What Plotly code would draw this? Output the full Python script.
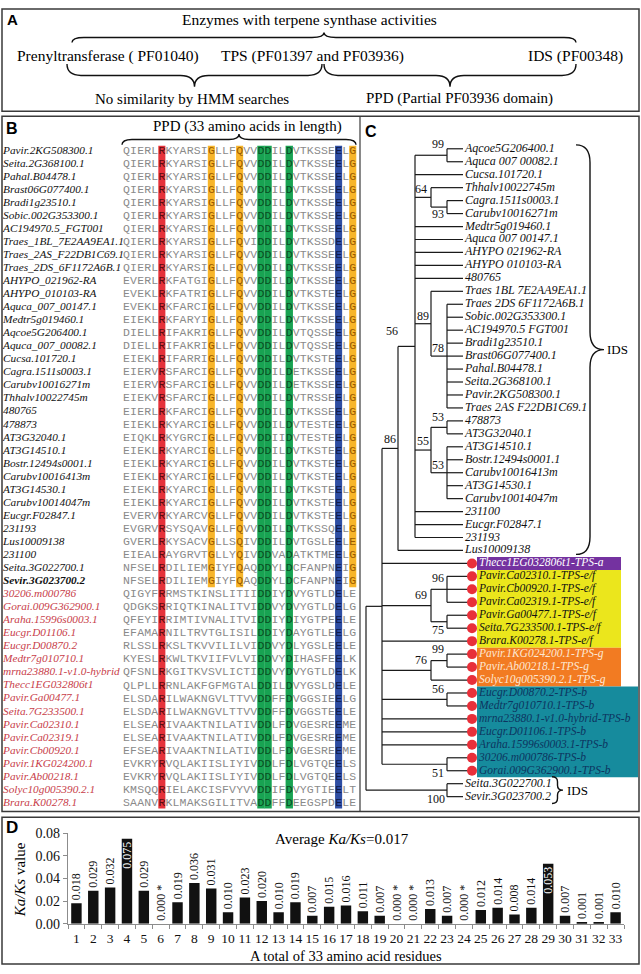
import plotly.graph_objects as go

W, H = 641, 974
SERIF = "Liberation Serif"
MONO = "Liberation Mono"
SANS = "Liberation Sans"

# ------------------------------------------------------------------ data
# Panel D : Ka/Ks per residue of the 33-aa PPD
residues = [str(i) for i in range(1, 34)]
kaks_values = [0.018, 0.029, 0.032, 0.075, 0.029, 0.000, 0.019, 0.036, 0.031, 0.010,
               0.023, 0.020, 0.010, 0.019, 0.007, 0.015, 0.016, 0.011, 0.007, 0.000,
               0.000, 0.013, 0.007, 0.000, 0.012, 0.014, 0.008, 0.014, 0.053, 0.007,
               0.001, 0.001, 0.010]
kaks_labels = ["0.018", "0.029", "0.032", "0.075", "0.029", "0.000 *", "0.019", "0.036",
               "0.031", "0.010", "0.023", "0.020", "0.010", "0.019", "0.007", "0.015",
               "0.016", "0.011", "0.007", "0.000 *", "0.000 *", "0.013", "0.007", "0.000 *",
               "0.012", "0.014", "0.008", "0.014", "0.053", "0.007", "0.001", "0.001", "0.010"]
y_ticks = [0.00, 0.02, 0.04, 0.06, 0.08]
average_text = "Average <i>Ka/Ks</i>=0.017"

# Panel B : alignment
aln_names = [
    "Pavir.2KG508300.1", "Seita.2G368100.1", "Pahal.B04478.1", "Brast06G077400.1",
    "Bradi1g23510.1", "Sobic.002G353300.1", "AC194970.5_FGT001", "Traes_1BL_7E2AA9EA1.1",
    "Traes_2AS_F22DB1C69.1", "Traes_2DS_6F1172A6B.1", "AHYPO_021962-RA", "AHYPO_010103-RA",
    "Aquca_007_00147.1", "Medtr5g019460.1", "Aqcoe5G206400.1", "Aquca_007_00082.1",
    "Cucsa.101720.1", "Cagra.1511s0003.1", "Carubv10016271m", "Thhalv10022745m",
    "480765", "478873", "AT3G32040.1", "AT3G14510.1", "Bostr.12494s0001.1",
    "Carubv10016413m", "AT3G14530.1", "Carubv10014047m", "Eucgr.F02847.1", "231193",
    "Lus10009138", "231100", "Seita.3G022700.1", "Sevir.3G023700.2",
    "30206.m000786", "Gorai.009G362900.1", "Araha.15996s0003.1", "Eucgr.D01106.1",
    "Eucgr.D00870.2", "Medtr7g010710.1", "mrna23880.1-v1.0-hybrid", "Thecc1EG032806t1",
    "Pavir.Ga00477.1", "Seita.7G233500.1", "Pavir.Ca02310.1", "Pavir.Ca02319.1",
    "Pavir.Cb00920.1", "Pavir.1KG024200.1", "Pavir.Ab00218.1", "Solyc10g005390.2.1",
    "Brara.K00278.1"]
aln_group = ["IDS"] * 33 + ["IDS_key"] + ["TPS"] * 17
aln_seqs = [
    "QIERLRKYARSIGLLFQVVDDILDVTKSSEELG", "QIERLRKYARSIGLLFQVVDDILDVTKSSEELG",
    "QIERLRKYARSIGLLFQVVDDILDVTKSSEELG", "QIERLRKYARSIGLLFQVVDDILDVTKSSEELG",
    "QIERLRKYARSIGLLFQVVDDILDVTKSSEELG", "QIERLRKYARSIGLLFQVVDDILDVTKSSEELG",
    "QIERLRKYARSIGLLFQVVDDILDVTKSSEELG", "QIERLRKYARSIGLLFQVIDDILDVTKSSDELG",
    "QIERLRKYARSIGLLFQVVDDILDVTKSSEELG", "QIERLRKYARSIGLLFQVVDDILDVTKSSEELG",
    "EVERLRKFATGIGLLFQVVDDILDVTKSSEELG", "EVEKLRKFATRIGLLFQVVDDILDVTKSTEELG",
    "EVEKLRKFARCIGLLFQVVDDILDVTKSSEELG", "EIEKLRKFARYIGLLFQVVDDILDVTKSSEELG",
    "DIELLRIFAKRIGLLFQVVDDILDVTQSSEELG", "DIELLRIFAKRIGLLFQVVDDILDVTQSSEELG",
    "EIEKLRIFARRIGLLFQVVDDILDVTKSTEELG", "EIERVRSFARCIGLLFQVVDDILDETKSSEELG",
    "EIERVRSFARCIGLLFQVVDDILDETKSSEELG", "EIEKVRSFARCIGLLFQVVDDILDVTRSSEELG",
    "EIERLRKFARCIGLLFQVVDDILDVTKSSEELG", "EIEKLRKYARCIGLLFQVVDDILDVTESTEELG",
    "EIQKLRKYGRCIGLLFQVVDDIIDVTESTEELG", "EIEKLRKYARCIGLLFQVVDDILDVTKSTEELG",
    "EIEKLRKYARCIGLLFQVVDDILDVTKSTEELG", "EIEKLRKYARCIGLLFQVVDDILDVTKSTEELG",
    "EIEKLRKYARCIGLLFQVVDDILDVTKSTEELG", "EIEKLRKYARCIGLLFQVVDDILDVTKSTEELG",
    "EVERVRKYARCVGLLFQVVDDILDVTKSTEELG", "EVGRVRSYSQAVGLLFQVVDDILDVTKSSQELG",
    "GVERLRKYSACVGLLSQIVDDILDVTGSLEELE", "EIEALRAYGRVTGLLYQIVDDVADATKTMEELG",
    "NFSELRDILIEMGIYFQAQDDYLDCFANPNEIG", "NFSELRDILIEMGIYFQAQDDYLDCFANPNEIG",
    "QIGYFRRMSTKINSLITIIDDIYDVYGTLDELE", "QDGKSRRIQTKINALITVIDDVYDVYGTLDELG",
    "QFEYIRRIMTIVNALITVIDDIYDIYGTPEELE", "EFAMARNILTRVTGLISILDDIYDAYGTLEELG",
    "RLSSLRKSLTKVVILILVIDDVYDLYGSLEELE", "KYESLRKWLTKVIIFVLVIDDVYDIHASFEELK",
    "QFSNLRKGITKVSVLICTIDDVYDVYGTLDELK", "QLPLLRRNLAKFGFMGTALDDILDVYGSLDELE",
    "ELSDARILWAKNGVLTTVVDDFFDVGGSIEELG", "ELSDARILWAKNGVLTTVVDDFFDVGGSTEELE",
    "ELSEARIVAAKTNILATIVDDLFDVGESREEME", "ELSEARIVAAKTNILATIVDDLFDVGESREEME",
    "EFSEARIVAAKTNILATIVDDLFDVGESREEME", "EVKRYRVQLAKIISLIYIVDDLFDLVGTQEELS",
    "EVKRYRVQLAKIISLIYIVDDLFDLVGTQEELS", "KMSQQRIELAKCISFVYVVDDIFDVYGTIEELT",
    "SAANVRKLMAKSGILITVADDFFDEEGSPDELE"]
red_cols = [6]
orange_cols = [13, 17, 33]       # conserved only in the IDS rows
green_cols = [20, 21, 24]
blue_cols = [31]
ids_row_count = 34

# Panel C : tree topology (node id, bootstrap, children)
TREE = ("root", "", [
    ("n86", "86", [
        ("n56", "56", [
            ("nA", "", [
                ("n99a", "99", ["Aqcoe5G206400.1", "Aquca 007 00082.1"]),
                "Cucsa.101720.1",
                ("n64", "64", ["Thhalv10022745m",
                               ("n93", "93", ["Cagra.1511s0003.1", "Carubv10016271m"])]),
                "Medtr5g019460.1", "Aquca 007 00147.1", "AHYPO 021962-RA",
                "AHYPO 010103-RA", "480765",
                ("n89", "89", ["Traes 1BL 7E2AA9EA1.1",
                               ("n78", "78", ["Traes 2DS 6F1172A6B.1", "Sobic.002G353300.1",
                                              "AC194970.5 FGT001", "Bradi1g23510.1",
                                              "Brast06G077400.1", "Pahal.B04478.1",
                                              "Seita.2G368100.1", "Pavir.2KG508300.1",
                                              "Traes 2AS F22DB1C69.1"])]),
                ("n55", "55", [("n53a", "53", ["478873", "AT3G32040.1"]),
                               ("n53b", "53", ["AT3G14510.1", "Bostr.12494s0001.1",
                                               "Carubv10016413m", "AT3G14530.1",
                                               "Carubv10014047m"])]),
                "231100", "Eucgr.F02847.1", "231193"]),
            "Lus10009138"]),
        "Thecc1EG032806t1-TPS-a",
        ("n69", "69", [("n96", "96", ["Pavir.Ca02310.1-TPS-e/f", "Pavir.Cb00920.1-TPS-e/f",
                                      "Pavir.Ca02319.1-TPS-e/f"]),
                       ("n75", "75", ["Pavir.Ga00477.1-TPS-e/f", "Seita.7G233500.1-TPS-e/f"])]),
        "Brara.K00278.1-TPS-e/f",
        ("n76", "76", [("n99b", "99", ["Pavir.1KG024200.1-TPS-g", "Pavir.Ab00218.1-TPS-g"]),
                       "Solyc10g005390.2.1-TPS-g"]),
        ("nb56", "56", ["Eucgr.D00870.2-TPS-b", "Medtr7g010710.1-TPS-b"]),
        "mrna23880.1-v1.0-hybrid-TPS-b", "Eucgr.D01106.1-TPS-b", "Araha.15996s0003.1-TPS-b",
        ("n51", "51", ["30206.m000786-TPS-b", "Gorai.009G362900.1-TPS-b"])]),
    ("nSS", "100", ["Seita.3G022700.1", "Sevir.3G023700.2"])])
tps_classes = ["TPS-a", "TPS-e/f", "TPS-g", "TPS-b"]

# ------------------------------------------------------------------ layout constants
ROW0_B, DY_B = 146.0, 13.25
COL0, DX = 126.5, 7.07
ROW0_C, DY_C = 144.0, 13.16
NODE_X = {"root": 366, "n86": 382, "n56": 398, "nA": 415,
          "n64": 431, "n89": 431, "n55": 431, "n69": 431, "n76": 431}
INNER_X = 447
LEAF_END_IDS, LEAF_END_TPS = 463, 472
LEAF_TXT_IDS, LEAF_TXT_TPS = 465, 479

GRAY = "#8a8a8a"
RED, ORANGE, GREEN, BLUE = "#e5323b", "#f7b52a", "#18a352", "#2e4ea3"
RED_T, ORANGE_T, GREEN_T, BLUE_T = "#5c0c10", "#9a5a00", "#0a4d22", "#0e1a4a"
TPS_NAME_RED = "#c8404a"
BOX_COL = {"TPS-a": "#7432a0", "TPS-e/f": "#ebe61c", "TPS-g": "#f27b22", "TPS-b": "#168b9d"}
BOX_TXT = {"TPS-a": "#ffffff", "TPS-e/f": "#111111", "TPS-g": "#fde7d2", "TPS-b": "#0d3560"}
BOX_RIGHT = {"TPS-a": 621, "TPS-e/f": 621, "TPS-g": 621, "TPS-b": 638}

fig = go.Figure()
shapes, anns = [], []


def ann(x, y, text, size, anchor="center", family=SERIF, color="black", angle=0):
    anns.append(dict(x=x, y=y, xref="x", yref="y", text=text, showarrow=False,
                     xanchor=anchor, yanchor="middle", textangle=angle,
                     font=dict(family=family, size=size, color=color)))


def rect(x0, y0, x1, y1, fill=None, line=None, lw=0, layer="below"):
    shapes.append(dict(type="rect", xref="x", yref="y", x0=x0, y0=y0, x1=x1, y1=y1,
                       fillcolor=fill or "rgba(0,0,0,0)",
                       line=dict(color=line or "rgba(0,0,0,0)", width=lw), layer=layer))


def hbrace(x1, x2, y_end, y_tip, r=10):
    ym = (y_end + y_tip) / 2
    xm = (x1 + x2) / 2
    return (f"M{x1},{y_end} Q{x1},{ym} {x1 + r},{ym} L{xm - r},{ym} Q{xm},{ym} {xm},{y_tip} "
            f"Q{xm},{ym} {xm + r},{ym} L{x2 - r},{ym} Q{x2},{ym} {x2},{y_end}")


def vbrace(y1, y2, x_end, x_tip, r=12):
    xm = (x_end + x_tip) / 2
    ymid = (y1 + y2) / 2
    return (f"M{x_end},{y1} Q{xm},{y1} {xm},{y1 + r} L{xm},{ymid - r} Q{xm},{ymid} {x_tip},{ymid} "
            f"Q{xm},{ymid} {xm},{ymid + r} L{xm},{y2 - r} Q{xm},{y2} {x_end},{y2}")


def brace_shape(path, lw=1.4):
    shapes.append(dict(type="path", xref="x", yref="y", path=path,
                       line=dict(color="#111", width=lw), layer="above"))


# ------------------------------------------------------------------ panel frames
BOX = "#3a3a3a"
rect(2, 2, 639, 106, line=BOX, lw=1.5, layer="above")
rect(2, 111, 639, 817, line=BOX, lw=1.5, layer="above")
shapes.append(dict(type="line", xref="x", yref="y", x0=360, x1=360, y0=111, y1=817,
                   line=dict(color=BOX, width=1.2)))
rect(2, 823, 639, 972, line=BOX, lw=1.5, layer="above")

# ------------------------------------------------------------------ panel A
ann(12, 13, "<b>A</b>", 15, family=SANS)
ann(309, 13, "Enzymes with terpene synthase activities", 15.5)
brace_shape(hbrace(72, 576, 36, 26, r=12))
ann(15, 50, "Prenyltransferase ( PF01040)", 15.5, anchor="left")
ann(312, 50, "TPS (PF01397 and PF03936)", 15.5)
ann(575, 50, "IDS (PF00348)", 15.5)
brace_shape(hbrace(67, 322, 58, 81, r=14))
brace_shape(hbrace(324, 576, 58, 81, r=14))
ann(192, 93, "No similarity by HMM searches", 15)
ann(459, 93, "PPD (Partial PF03936 domain)", 15)

# ------------------------------------------------------------------ panel B
ann(12, 123, "<b>B</b>", 16, family=SANS)
ann(247, 121, "PPD (33 amino acids in length)", 15)
brace_shape(hbrace(122, 356, 140, 129, r=10))

n_rows = len(aln_seqs)
row_y = [ROW0_B + i * DY_B for i in range(n_rows)]
col_x = [COL0 + c * DX for c in range(33)]
top_y = row_y[0] - 5
bot_y = row_y[-1] + 5.5
ids_bot = row_y[ids_row_count - 1] + 6
for c in red_cols:
    rect(col_x[c - 1] - DX / 2, top_y, col_x[c - 1] + DX / 2, bot_y, fill=RED)
for c in green_cols:
    rect(col_x[c - 1] - DX / 2, top_y, col_x[c - 1] + DX / 2 + 0.3, bot_y, fill=GREEN)
for c in blue_cols:
    rect(col_x[c - 1] - DX / 2, top_y, col_x[c - 1] + DX / 2, bot_y, fill=BLUE)
for c in orange_cols:
    rect(col_x[c - 1] - DX / 2, top_y, col_x[c - 1] + DX / 2, ids_bot, fill=ORANGE)

lx, ly, lt, lc = [], [], [], []
for r, seq in enumerate(aln_seqs):
    for c, ch in enumerate(seq):
        col = c + 1
        color = GRAY
        if col in red_cols:
            color = RED_T
        elif col in green_cols:
            color = GREEN_T
        elif col in blue_cols:
            color = BLUE_T
        elif col in orange_cols and r < ids_row_count:
            color = ORANGE_T
        lx.append(col_x[c]); ly.append(row_y[r]); lt.append(ch); lc.append(color)
fig.add_trace(go.Scatter(x=lx, y=ly, text=lt, mode="text", textposition="middle center",
                         textfont=dict(family=MONO, size=11.5, color=lc), hoverinfo="skip"))

for grp, color, weight in [("IDS", "#111111", "normal"), ("IDS_key", "#111111", "bold"),
                           ("TPS", TPS_NAME_RED, "normal")]:
    idx = [i for i, g in enumerate(aln_group) if g == grp]
    fig.add_trace(go.Scatter(
        x=[3] * len(idx), y=[row_y[i] for i in idx], text=[aln_names[i] for i in idx],
        mode="text", textposition="middle right", hoverinfo="skip",
        textfont=dict(family=SERIF, size=11.3, color=color, style="italic", weight=weight)))

# ------------------------------------------------------------------ panel C
ann(371, 126, "<b>C</b>", 16, family=SANS)

seg_x, seg_y = [], []
leaf_y = {}
boot = []
counter = [0]


def is_tps(name):
    return "-TPS-" in name


def place(node):
    if isinstance(node, str):
        y = ROW0_C + counter[0] * DY_C
        counter[0] += 1
        leaf_y[node] = y
        return y, (LEAF_END_TPS if is_tps(node) else LEAF_END_IDS)
    nid, lab, children = node
    x = NODE_X.get(nid, INNER_X)
    res = [place(ch) for ch in children]
    ys = [r[0] for r in res]
    for cy, cx in res:
        seg_x.extend([x, cx, None]); seg_y.extend([cy, cy, None])
    seg_x.extend([x, x, None]); seg_y.extend([ys[0], ys[-1], None])
    yj = (ys[0] + ys[-1]) / 2
    if lab:
        boot.append((nid, lab, x, yj, ys[0]))
    return yj, x


place(TREE)

# group boxes behind TPS leaves
for cls in tps_classes:
    ys = [y for n, y in leaf_y.items() if n.endswith(cls)]
    rect(477, min(ys) - DY_C / 2, BOX_RIGHT[cls], max(ys) + DY_C / 2, fill=BOX_COL[cls])

fig.add_trace(go.Scatter(x=seg_x, y=seg_y, mode="lines", hoverinfo="skip",
                         line=dict(color="#1a1a1a", width=1.2)))

tps_leaves = [n for n in leaf_y if is_tps(n)]
ids_leaves = [n for n in leaf_y if not is_tps(n)]
fig.add_trace(go.Scatter(x=[LEAF_END_TPS] * len(tps_leaves), y=[leaf_y[n] for n in tps_leaves],
                         mode="markers", hoverinfo="skip",
                         marker=dict(size=10, color="#e8303a", line=dict(width=0))))
fig.add_trace(go.Scatter(x=[LEAF_TXT_IDS] * len(ids_leaves), y=[leaf_y[n] for n in ids_leaves],
                         text=ids_leaves, mode="text", textposition="middle right",
                         hoverinfo="skip",
                         textfont=dict(family=SERIF, size=12, color="#111", style="italic")))
tps_cols = [BOX_TXT[next(c for c in tps_classes if n.endswith(c))] for n in tps_leaves]
fig.add_trace(go.Scatter(x=[LEAF_TXT_TPS] * len(tps_leaves), y=[leaf_y[n] for n in tps_leaves],
                         text=tps_leaves, mode="text", textposition="middle right",
                         hoverinfo="skip",
                         textfont=dict(family=SERIF, size=11.5, color=tps_cols, style="italic")))

# bootstrap labels: (dx from node line, reference 'j'unction or 'top', dy)
BOOT_PLACE = {"n86": (8, "top", -9), "n56": (-6, "top", -15), "n99a": (-9, "j", -10),
              "n64": (-10, "j", -7), "n93": (-9, "j", 8), "n89": (-8, "j", -7),
              "n78": (-9, "j", -7), "n55": (-8, "j", -8), "n53a": (-9, "j", -10),
              "n53b": (-9, "j", -7), "n69": (-10, "j", -10), "n96": (-9, "j", -10),
              "n75": (-9, "j", 9), "n76": (-10, "j", -9), "n99b": (-9, "j", -11),
              "nb56": (-9, "j", -10), "n51": (-9, "j", 10), "nSS": (-11, "j", 10)}
bx, by, bt = [], [], []
for nid, lab, x, yj, ytop in boot:
    dx, ref, dy = BOOT_PLACE[nid]
    bx.append(x + dx); by.append((yj if ref == "j" else ytop) + dy); bt.append(lab)
fig.add_trace(go.Scatter(x=bx, y=by, text=bt, mode="text", textposition="middle center",
                         hoverinfo="skip", textfont=dict(family=SERIF, size=12, color="#111")))

# IDS braces
first_ids = leaf_y["Aqcoe5G206400.1"]
last_ids = leaf_y["Lus10009138"]
brace_shape(vbrace(first_ids - 4, last_ids + 4, 576, 604, r=18))
ann(605, (first_ids + last_ids) / 2, "IDS", 13, anchor="left")
s1, s2 = leaf_y["Seita.3G022700.1"], leaf_y["Sevir.3G023700.2"]
brace_shape(vbrace(s1 - 7, s2 + 7, 552, 563, r=5))
ann(565, (s1 + s2) / 2, "IDS", 13, anchor="left")

# ------------------------------------------------------------------ panel D
ann(12, 833, "<b>D</b>", 17, family=SANS)
ann(342, 845, average_text, 15)
ann(20, 887, "<i>Ka/Ks</i> value", 15, angle=-90)
ann(346, 964, "A total of 33 amino acid residues", 14.5)

positions = ["inside" if v >= 0.05 else "outside" for v in kaks_values]
fig.add_trace(go.Bar(
    x=residues, y=kaks_values, text=kaks_labels, textposition=positions, textangle=-90,
    insidetextanchor="end", constraintext="none", cliponaxis=False,
    outsidetextfont=dict(family=SERIF, size=12, color="#111"),
    insidetextfont=dict(family=SERIF, size=12, color="#ffffff"),
    marker=dict(color="#111111", line=dict(width=0)), width=0.62,
    xaxis="x2", yaxis="y2", hoverinfo="skip"))

axis_gray = "#8c8c8c"
fig.update_layout(
    width=W, height=H, margin=dict(l=0, r=0, t=0, b=0),
    paper_bgcolor="white", plot_bgcolor="rgba(0,0,0,0)", showlegend=False,
    xaxis=dict(domain=[0, 1], range=[0, W], visible=False, fixedrange=True),
    yaxis=dict(domain=[0, 1], range=[H, 0], visible=False, fixedrange=True),
    xaxis2=dict(domain=[68 / W, 624 / W], anchor="y2", type="category",
                range=[-0.5, 32.5], tickmode="array", tickvals=residues, ticktext=residues,
                tickangle=0, showline=True, linecolor=axis_gray, linewidth=1.2,
                ticks="outside", tickson="boundaries", ticklen=4, tickcolor=axis_gray,
                tickfont=dict(family=SERIF, size=13.5, color="#111"), showgrid=False,
                zeroline=False, ticklabelstandoff=2),
    yaxis2=dict(domain=[1 - 931 / H, 1 - 839 / H], anchor="x2", range=[0, 0.08],
                tickvals=y_ticks, tickformat=".2f", showline=True, linecolor=axis_gray,
                linewidth=1.2, ticks="outside", ticklen=4, tickcolor=axis_gray,
                tickfont=dict(family=SERIF, size=14, color="#111"), showgrid=False,
                zeroline=False),
    shapes=shapes, annotations=anns,
)

fig.write_html("out.html", config={"displayModeBar": False},
               post_script="document.body.style.margin='0';")
